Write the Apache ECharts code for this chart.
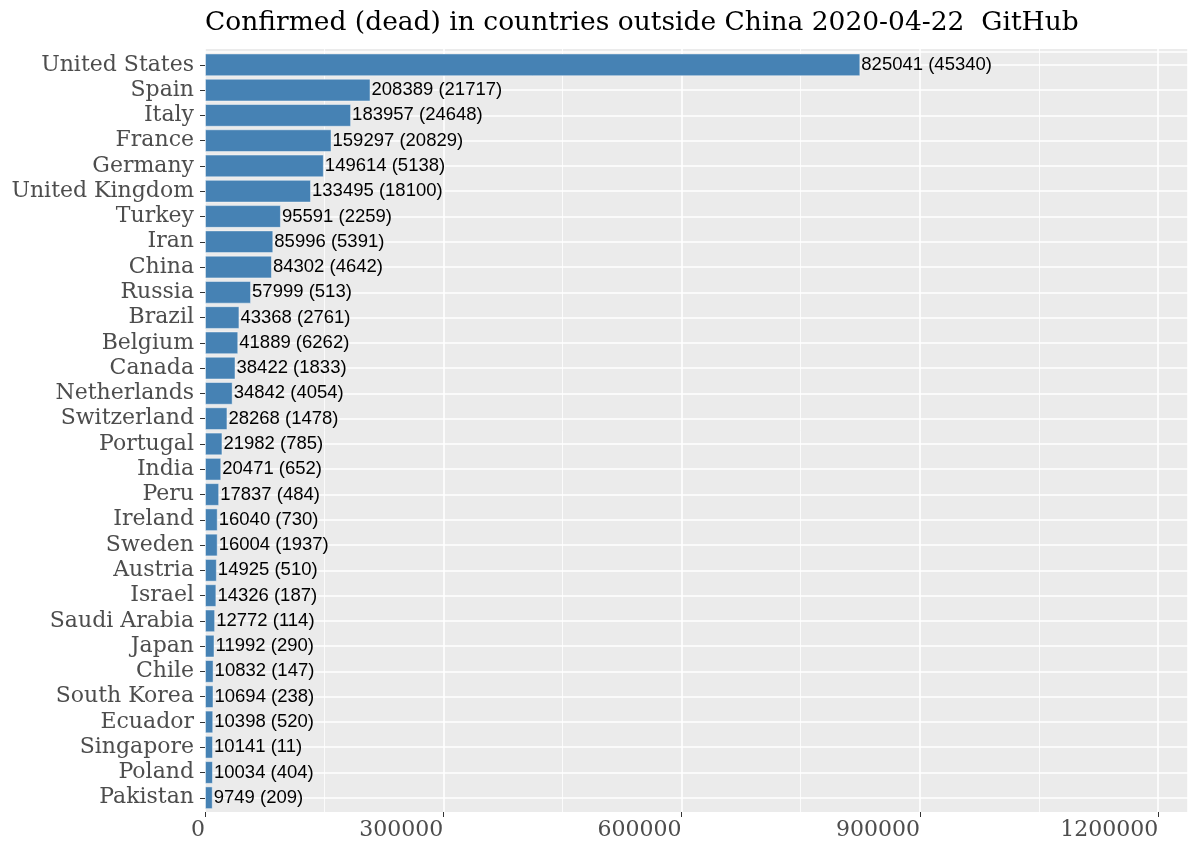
<!DOCTYPE html>
<html lang="en">
<head>
    <meta charset="UTF-8">
    <title>Confirmed (dead)</title>
    <script src="https://cdn.jsdelivr.net/npm/echarts@6/dist/echarts.min.js"></script>
    <style>
        html, body { margin: 0; padding: 0; background: #fff; }
    </style>
</head>
<body>
<div id="main" style="width: 1200px; height: 857px"></div>
<script type="text/javascript">
    var countries = ['United States', 'Spain', 'Italy', 'France', 'Germany', 'United Kingdom',
        'Turkey', 'Iran', 'China', 'Russia', 'Brazil', 'Belgium', 'Canada', 'Netherlands',
        'Switzerland', 'Portugal', 'India', 'Peru', 'Ireland', 'Sweden', 'Austria', 'Israel',
        'Saudi Arabia', 'Japan', 'Chile', 'South Korea', 'Ecuador', 'Singapore', 'Poland', 'Pakistan'];
    var confirmed = [825041, 208389, 183957, 159297, 149614, 133495, 95591, 85996, 84302, 57999,
        43368, 41889, 38422, 34842, 28268, 21982, 20471, 17837, 16040, 16004,
        14925, 14326, 12772, 11992, 10832, 10694, 10398, 10141, 10034, 9749];
    var dead = [45340, 21717, 24648, 20829, 5138, 18100, 2259, 5391, 4642, 513,
        2761, 6262, 1833, 4054, 1478, 785, 652, 484, 730, 1937,
        510, 187, 114, 290, 147, 238, 520, 11, 404, 209];
    var xTicks = [0, 300000, 600000, 900000, 1200000];
    var xMax = 1237562; // 1.5 x the largest value, as in the original

    var serif = 'DejaVu Serif';
    var myChart = echarts.init(document.getElementById('main'));

    // half-band slots so grid lines can sit in the middle of each bar
    var halfSlots = [];
    for (var i = 0; i < countries.length * 2; i++) halfSlots.push('h' + i);

    var option = {
        animation: false,
        backgroundColor: '#fff',
        title: {
            text: 'Confirmed (dead) in countries outside China 2020-04-22  GitHub',
            left: 200,
            top: 5,
            textStyle: { fontFamily: serif, fontWeight: 'normal', fontSize: 26.5, color: '#000' }
        },
        grid: [
            // panel (grey background, vertical grid lines, x axis)
            { left: 205, right: 12, top: 49, bottom: 45, show: true, backgroundColor: '#EBEBEB', borderWidth: 0 },
            // bars, with the discrete padding ggplot leaves at both ends
            { left: 205, right: 12, top: 52.2, bottom: 46.6, show: false }
        ],
        xAxis: [{
            type: 'value',
            gridIndex: 0,
            min: 0,
            max: xMax,
            interval: 300000,
            axisLine: { show: false },
            axisTick: { show: true, length: 5, lineStyle: { color: '#333', width: 1 } },
            axisLabel: {
                fontFamily: serif, fontSize: 22, color: '#4d4d4d', align: 'right', margin: 7,
                showMaxLabel: false,
                formatter: function (v) { return xTicks.indexOf(v) >= 0 ? String(v) : ''; }
            },
            splitLine: { show: true, lineStyle: { color: '#fff', width: 1.6 } },
            minorTick: { show: false, splitNumber: 2 },
            minorSplitLine: { show: true, lineStyle: { color: '#fff', width: 0.8 } }
        }, {
            type: 'value',
            gridIndex: 1,
            min: 0,
            max: xMax,
            show: false
        }],
        yAxis: [{
            type: 'value',
            gridIndex: 0,
            show: false,
            splitLine: { show: false }
        }, {
            type: 'category',
            gridIndex: 1,
            data: countries,
            inverse: true,
            axisLine: { show: false },
            axisTick: { show: true, alignWithLabel: true, length: 5, lineStyle: { color: '#333', width: 1 } },
            axisLabel: { interval: 0, fontFamily: serif, fontSize: 22, color: '#4d4d4d', margin: 11 },
            splitLine: { show: false }
        }, {
            type: 'category',
            gridIndex: 1,
            data: halfSlots,
            position: 'left',
            axisLine: { show: false },
            axisTick: { show: false },
            axisLabel: { show: false },
            splitLine: {
                show: true,
                interval: function (idx) { return idx % 2 === 1; },
                lineStyle: { color: '#fff', width: 1.6 }
            }
        }],
        series: [{
            type: 'bar',
            xAxisIndex: 1,
            yAxisIndex: 1,
            data: confirmed,
            barCategoryGap: '10%',
            itemStyle: { color: '#4682B4', borderColor: 'rgba(255,255,255,0.45)', borderWidth: 1 },
            label: {
                show: true,
                position: 'right',
                distance: 1,
                fontFamily: 'Liberation Sans',
                fontSize: 18.5,
                color: '#000',
                formatter: function (p) { return confirmed[p.dataIndex] + ' (' + dead[p.dataIndex] + ')'; }
            }
        }]
    };

    myChart.setOption(option);
</script>
</body>
</html>
